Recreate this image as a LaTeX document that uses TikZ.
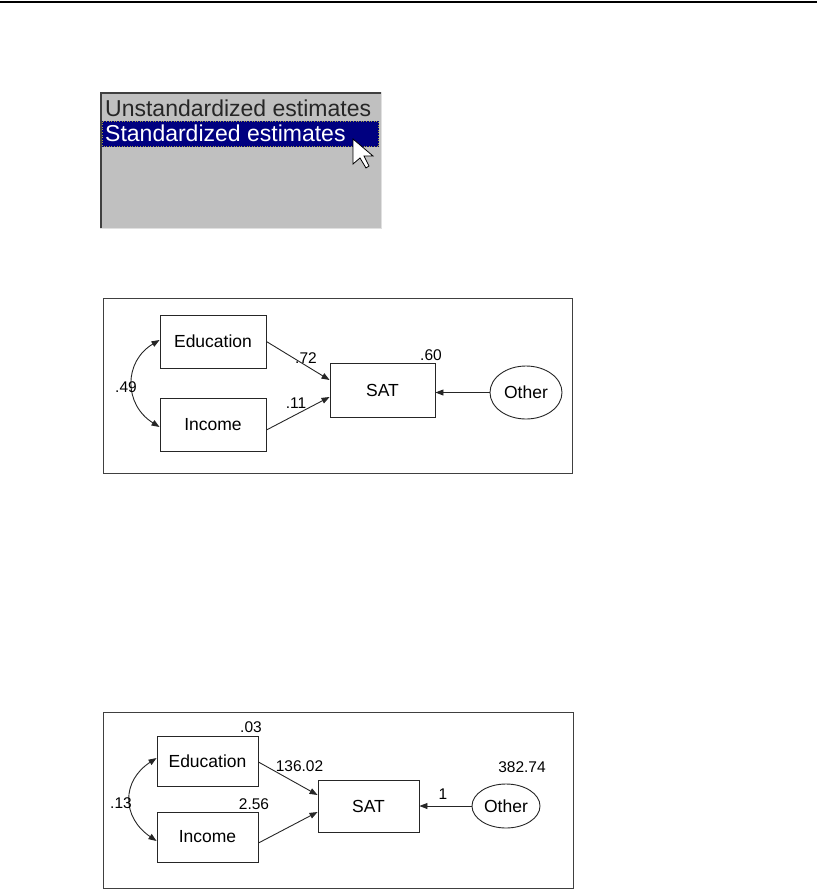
\documentclass[tikz,border=0pt]{standalone}
\usepackage{fontspec}
\setmainfont{Liberation Sans}
\usetikzlibrary{arrows.meta,shapes.geometric}
\definecolor{lbgray}{RGB}{192,192,192}
\definecolor{lbnavy}{RGB}{0,0,128}
\begin{document}
\begin{tikzpicture}[x=1pt,y=-1pt,
  box/.style={draw=black!85,line width=0.9pt,rectangle,inner sep=0pt,font=\fontsize{17.5}{20}\selectfont},
  lat/.style={draw=black!85,line width=0.9pt,ellipse,inner sep=0pt,font=\fontsize{17.5}{20}\selectfont},
  lbl/.style={inner sep=0pt,font=\fontsize{15.5}{17}\selectfont},
  arr/.style={draw=black!85,line width=0.9pt,-{Triangle[length=8pt,width=6pt]}},
  darr/.style={draw=black!85,line width=0.9pt,{Triangle[length=8pt,width=6pt]}-{Triangle[length=8pt,width=6pt]}},
  frame/.style={draw=black!75,line width=1pt}]
\useasboundingbox (0,0) rectangle (817,892);
% top rule
\draw[line width=1.6pt] (0,2) -- (817,2);
% list box
\fill[lbgray] (100,92) rectangle (381,228);
\draw[white!88!black,line width=1pt] (381,92) -- (381,228) -- (100,228);
\draw[black!75,line width=2.2pt] (101,228) -- (101,93) -- (381,93);
\node[anchor=west,inner sep=0pt,font=\fontsize{23}{25}\selectfont,text=black!85] (unstd) at (105,108) {Unstandardized estimates};
\fill[lbnavy] (102,121) rectangle (379,147);
\draw[yellow!60!black,line width=0.6pt,dotted] (102.5,121.5) rectangle (378.5,146.5);
\node[anchor=west,inner sep=0pt,font=\fontsize{23}{25}\selectfont,text=white] (std) at (105,133.5) {Standardized estimates};
% cursor
\draw[fill=white,draw=black,line width=0.8pt,line join=miter]
  (353,139) -- ++(0,25) -- ++(7,-6) -- ++(6,10) -- ++(3,-2) -- ++(-5,-10) -- ++(9,0) -- cycle;

% ---------- diagram 1 ----------
\draw[frame] (103,298) rectangle (572,473);
\node[box,minimum width=106pt,minimum height=53pt] (edu1) at (213,341.5) {Education};
\node[box,minimum width=106pt,minimum height=53pt] (inc1) at (213,424.5) {Income};
\node[box,minimum width=105pt,minimum height=54pt] (sat1) at (382.5,390) {SAT};
\node[lat,minimum width=72pt,minimum height=53pt] (oth1) at (526,392.5) {Other};
\draw[arr] (edu1.east) -- ([shift={(0,-10)}]sat1.west);
\draw[arr] ([shift={(0,5.5)}]inc1.east) -- ([shift={(0,7)}]sat1.west);
\draw[arr] (oth1.west) -- (oth1.west -| sat1.east);
\draw[darr] ([shift={(0,-1.5)}]edu1.west) .. controls ([shift={(-36,20)}]edu1.west) and ([shift={(-36,-20)}]inc1.west) .. ([shift={(0,2.5)}]inc1.west);
\node[lbl] (l72) at (306,358) {.72};
\node[lbl] (l11) at (296,403) {.11};
\node[lbl] (l49) at (126,387) {.49};
\node[lbl] (l60) at (431,355) {.60};

% ---------- diagram 2 ----------
\draw[frame] (103,712) rectangle (573,888);
\node[box,minimum width=101pt,minimum height=50pt] (edu2) at (207.5,761) {Education};
\node[box,minimum width=101pt,minimum height=50pt] (inc2) at (207.5,837) {Income};
\node[box,minimum width=101pt,minimum height=52pt] (sat2) at (368.5,806) {SAT};
\node[lat,minimum width=68pt,minimum height=44pt] (oth2) at (506,806) {Other};
\draw[arr] ([shift={(0,1)}]edu2.east) -- ([shift={(0,-11)}]sat2.west);
\draw[arr] ([shift={(0,6)}]inc2.east) -- ([shift={(0,6)}]sat2.west);
\draw[arr] (oth2.west) -- (oth2.west -| sat2.east);
\draw[darr] ([shift={(0,-3)}]edu2.west) .. controls ([shift={(-35,20)}]edu2.west) and ([shift={(-35,-20)}]inc2.west) .. ([shift={(0,4)}]inc2.west);
\node[lbl] (l03) at (251,727) {.03};
\node[lbl] (l136) at (299.5,766) {136.02};
\node[lbl] (l256) at (254,804) {2.56};
\node[lbl] (l13) at (121,803) {.13};
\node[lbl] (l382) at (522,767) {382.74};
\node[lbl] (l1) at (443,794) {1};
\end{tikzpicture}
\end{document}
